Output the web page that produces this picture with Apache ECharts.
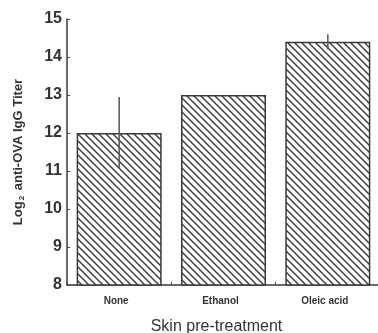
<!DOCTYPE html>
<html>
<head>
<meta charset="utf-8">
<script src="https://cdn.jsdelivr.net/npm/echarts@6/dist/echarts.min.js"></script>
<style>
  html, body { margin: 0; padding: 0; background: #fff; }
  #chart { width: 378px; height: 333px; }
</style>
</head>
<body>
<div id="chart"></div>
<script>
// Treatment groups and mean log2 titers with their error half-widths
const categories = ['None', 'Ethanol', 'Oleic acid'];
const titers = [12.0, 13.0, 14.4];
const errors = [0.95, 0, 0.2];
const yTicks = [8, 9, 10, 11, 12, 13, 14, 15];

// Diagonal "\" hatching tile used as the bar fill
function hatchTile() {
  const s = 7;
  const c = document.createElement('canvas');
  c.width = s; c.height = s;
  const g = c.getContext('2d');
  g.fillStyle = '#ffffff';
  g.fillRect(0, 0, s, s);
  g.strokeStyle = '#3a3a3a';
  g.lineWidth = 1.4;
  g.beginPath();
  g.moveTo(-1, -1); g.lineTo(s + 1, s + 1);
  g.moveTo(-1, s - 1); g.lineTo(1, s + 1);
  g.moveTo(s - 1, -1); g.lineTo(s + 1, 1);
  g.stroke();
  return c;
}

const chart = echarts.init(document.getElementById('chart'), null, { renderer: 'canvas' });

const errorData = categories.map((c, i) => [i, titers[i] - errors[i], titers[i] + errors[i]]);

chart.setOption({
  animation: false,
  grid: { left: 67, top: 19, width: 313, height: 266, outerBoundsMode: 'none', containLabel: false },
  xAxis: {
    type: 'category',
    data: categories,
    name: 'Skin pre-treatment',
    nameLocation: 'middle',
    nameGap: 34,
    nameTextStyle: { fontFamily: 'Liberation Sans', fontSize: 16, color: '#333', padding: [0, 14, 0, 0] },
    axisLine: { lineStyle: { color: '#3a3a3a', width: 1.5 } },
    axisTick: { show: true, inside: true, length: 3, lineStyle: { color: '#444' } },
    axisLabel: { fontFamily: 'Liberation Sans', fontSize: 10, fontWeight: 'bold', color: '#333', margin: 11, padding: [0, 6, 0, 0] }
  },
  yAxis: {
    type: 'value',
    min: yTicks[0],
    max: yTicks[yTicks.length - 1],
    interval: 1,
    name: '{a|Log}{s|2}{a| anti-OVA IgG Titer}',
    nameLocation: 'middle',
    nameRotate: 90,
    nameGap: 41,
    nameTextStyle: {
      rich: {
        a: { fontFamily: 'Liberation Sans Narrow, Liberation Sans', fontSize: 13, fontWeight: 'bold', color: '#333' },
        s: { fontFamily: 'Liberation Sans', fontSize: 8, fontWeight: 'bold', color: '#333', verticalAlign: 'bottom', padding: [7, 2, 0, 1] }
      }
    },
    splitLine: { show: false },
    axisLine: { show: true, lineStyle: { color: '#3a3a3a', width: 1.5 } },
    axisTick: { show: true, inside: true, length: 3, lineStyle: { color: '#444' } },
    axisLabel: { fontFamily: 'Liberation Sans', fontSize: 16, fontWeight: 'bold', color: '#333', margin: 5 }
  },
  series: [
    {
      type: 'bar',
      data: titers,
      barWidth: 85,
      itemStyle: {
        color: { image: hatchTile(), repetition: 'repeat' },
        borderColor: '#3a3a3a',
        borderWidth: 1.5
      }
    },
    {
      type: 'custom',
      data: errorData,
      z: 10,
      renderItem: function (params, api) {
        const lo = api.coord([api.value(0), api.value(1)]);
        const hi = api.coord([api.value(0), api.value(2)]);
        if (Math.abs(lo[1] - hi[1]) < 0.5) return null;
        return {
          type: 'line',
          shape: { x1: hi[0], y1: hi[1], x2: lo[0], y2: lo[1] },
          style: { stroke: '#555', lineWidth: 1.5 }
        };
      }
    }
  ]
});
</script>
</body>
</html>
